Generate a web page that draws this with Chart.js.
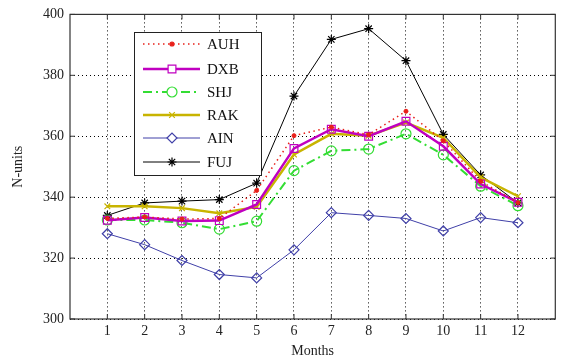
<!DOCTYPE html>
<html>
<head>
<meta charset="utf-8">
<script src="https://cdn.jsdelivr.net/npm/chart.js@4.4.0/dist/chart.umd.min.js"></script>
<style>
  html, body { margin: 0; padding: 0; background: #fff; }
  #wrap { width: 562px; height: 360px; }
</style>
</head>
<body>
<div id="wrap"><canvas id="lineChart" width="562" height="360"></canvas></div>
<script>
const months = [1, 2, 3, 4, 5, 6, 7, 8, 9, 10, 11, 12];
const yTicks = [300, 320, 340, 360, 380, 400];
const seriesNames = ['AUH', 'DXB', 'SHJ', 'RAK', 'AIN', 'FUJ'];

const auh = [333, 333.5, 332.8, 333, 342.2, 360.2, 363, 360.5, 368.2, 358.5, 345.2, 338.2];
const dxb = [332.4, 333.3, 332.2, 332.3, 337.6, 356, 362.3, 360, 364.9, 356.7, 344.3, 338.3];
const shj = [332.5, 332.5, 331.6, 329.5, 332.1, 348.7, 355.2, 355.8, 360.8, 353.9, 343.6, 337.2];
const rak = [337, 337, 336.4, 334.7, 336.8, 354, 360.8, 360.2, 364.5, 359.5, 346.5, 340.3];
const ain = [328, 324.4, 319.2, 314.6, 313.5, 322.7, 334.9, 334, 333, 328.9, 333.3, 331.6];
const fuj = [334, 338.1, 338.7, 339.2, 344.6, 373.2, 391.8, 395.3, 384.8, 360.6, 347.3, 338.1];

const serif = "'Liberation Serif', 'DejaVu Serif', serif";

function pts(vals) {
    return months.map((m, i) => ({ x: m, y: vals[i] }));
}

const styles = {
    AUH: { color: '#e8201a', width: 1.5, dash: [1.5, 3.5], marker: 'circle', r: 2, fill: '#e8201a' },
    DXB: { color: '#c000c0', width: 2.5, dash: [], marker: 'rect', r: 5.5, fill: 'rgba(0,0,0,0)' },
    SHJ: { color: '#33dd33', width: 2, dash: [9, 4, 2, 4], marker: 'circle', r: 5, fill: 'rgba(0,0,0,0)' },
    RAK: { color: '#c8b400', width: 2.5, dash: [], marker: 'crossRot', r: 4, fill: 'rgba(0,0,0,0)' },
    AIN: { color: '#4040a8', width: 1, dash: [], marker: 'rectRot', r: 5, fill: 'rgba(0,0,0,0)' },
    FUJ: { color: '#000000', width: 1, dash: [], marker: 'star', r: 4.5, fill: 'rgba(0,0,0,0)' }
};

const allVals = { AUH: auh, DXB: dxb, SHJ: shj, RAK: rak, AIN: ain, FUJ: fuj };

const datasets = seriesNames.map(name => {
    const s = styles[name];
    return {
        label: name,
        data: pts(allVals[name]),
        borderColor: s.color,
        borderWidth: s.width,
        borderDash: s.dash,
        pointStyle: s.marker,
        pointRadius: s.r,
        pointBackgroundColor: s.fill,
        pointBorderColor: s.color,
        pointBorderWidth: name === 'AUH' ? 1 : 1.2,
        tension: 0,
        fill: false
    };
});

// axis frame with inner ticks + legend box inside the plot (matlab look)
const frameAndLegend = {
    id: 'frameAndLegend',
    afterDraw(chart) {
        const ctx = chart.ctx;
        const a = chart.chartArea;
        const xs = chart.scales.x, ys = chart.scales.y;
        ctx.save();
        ctx.strokeStyle = '#333';
        ctx.lineWidth = 1.2;
        ctx.setLineDash([]);
        ctx.strokeRect(a.left, a.top, a.right - a.left, a.bottom - a.top);
        ctx.lineWidth = 1;
        months.forEach(m => {
            const px = xs.getPixelForValue(m);
            ctx.beginPath();
            ctx.moveTo(px, a.bottom); ctx.lineTo(px, a.bottom - 5);
            ctx.moveTo(px, a.top); ctx.lineTo(px, a.top + 5);
            ctx.stroke();
        });
        yTicks.forEach(v => {
            const py = ys.getPixelForValue(v);
            ctx.beginPath();
            ctx.moveTo(a.left, py); ctx.lineTo(a.left + 5, py);
            ctx.moveTo(a.right, py); ctx.lineTo(a.right - 5, py);
            ctx.stroke();
        });

        // legend
        const bx = 134, by = 32, bw = 127, bh = 143;
        ctx.fillStyle = '#fff';
        ctx.fillRect(bx, by, bw, bh);
        ctx.strokeStyle = '#222';
        ctx.lineWidth = 1;
        ctx.strokeRect(bx + 0.5, by + 0.5, bw, bh);
        const rows = [44, 69, 92, 115, 138, 162];
        ctx.font = '15px ' + serif;
        ctx.textBaseline = 'middle';
        seriesNames.forEach((name, i) => {
            const s = styles[name];
            const y = rows[i];
            ctx.strokeStyle = s.color;
            ctx.lineWidth = s.width;
            ctx.setLineDash(s.dash);
            ctx.beginPath();
            ctx.moveTo(143, y); ctx.lineTo(200, y);
            ctx.stroke();
            ctx.setLineDash([]);
            ctx.strokeStyle = s.color;
            ctx.fillStyle = name === 'AUH' ? s.color : '#fff';
            ctx.lineWidth = 1.2;
            Chart.helpers.drawPoint(ctx, { pointStyle: s.marker, radius: s.r, borderWidth: 1.2, rotation: 0 }, 172, y);
            ctx.fillStyle = '#111';
            ctx.fillText(name, 207, y + 1);
        });
        ctx.restore();
    }
};

const cv = document.getElementById('lineChart');

new Chart(cv, {
    type: 'line',
    data: { datasets: datasets },
    options: {
        responsive: false,
        animation: false,
        devicePixelRatio: 1,
        layout: { padding: { top: 11, right: 2, left: 10, bottom: 0 } },
        plugins: {
            legend: { display: false },
            tooltip: { enabled: false }
        },
        scales: {
            x: {
                type: 'linear',
                min: 0,
                max: 13,
                afterBuildTicks: axis => { axis.ticks = months.map(v => ({ value: v })); },
                afterFit: axis => { axis.height = 41; },
                grid: { color: '#000', lineWidth: 1, drawTicks: false },
                border: { display: false, dash: [1, 3] },
                ticks: { color: '#222', font: { family: serif, size: 14 }, padding: 4, maxRotation: 0 },
                title: { display: true, text: 'Months', color: '#222', font: { family: serif, size: 14 }, padding: { top: 0, bottom: 0 } }
            },
            y: {
                min: 300,
                max: 400,
                afterBuildTicks: axis => { axis.ticks = yTicks.map(v => ({ value: v })); },
                afterFit: axis => { axis.width = 60; },
                grid: { color: '#000', lineWidth: 1, drawTicks: false },
                border: { display: false, dash: [1, 3] },
                ticks: { color: '#222', font: { family: serif, size: 14 }, padding: 6 },
                title: { display: true, text: 'N-units', color: '#222', font: { family: serif, size: 14 }, padding: { top: 0, bottom: 4 } }
            }
        }
    },
    plugins: [frameAndLegend]
});
</script>
</body>
</html>
